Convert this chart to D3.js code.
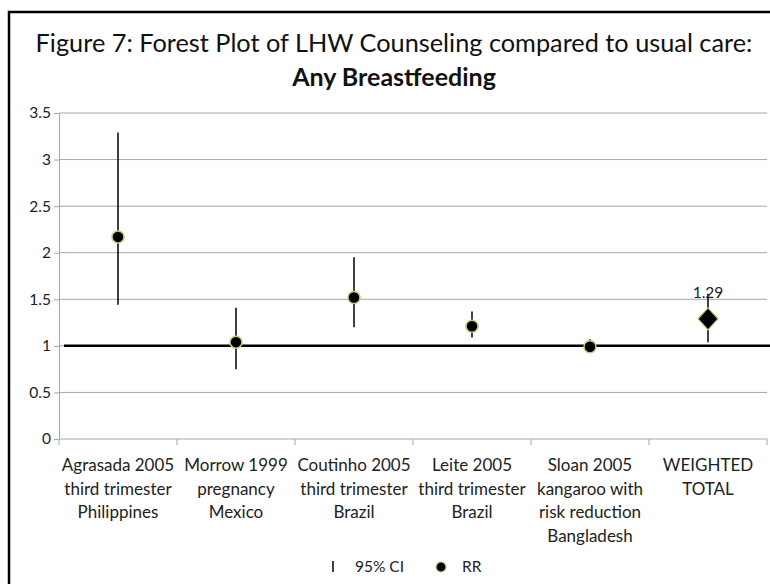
<!DOCTYPE html>
<html lang="en">
<head>
  <meta charset="UTF-8">
  <title>Forest Plot - Any Breastfeeding</title>
  <script src="https://d3js.org/d3.v7.min.js"></script>
  <style>
    body { margin: 0; background: #fff; }
    svg { display: block; font-family: Lato, "Open Sans", sans-serif; }
  </style>
</head>
<body>
  <svg id="chart"></svg>

  <script>
    // Data
    const categories = [
      ["Agrasada 2005", "third trimester", "Philippines"],
      ["Morrow 1999", "pregnancy", "Mexico"],
      ["Coutinho 2005", "third trimester", "Brazil"],
      ["Leite 2005", "third trimester", "Brazil"],
      ["Sloan 2005", "kangaroo with", "risk reduction", "Bangladesh"],
      ["WEIGHTED", "TOTAL"]
    ];
    const rr = [2.17, 1.04, 1.52, 1.21, 0.99, 1.29];
    const ciLow = [1.44, 0.75, 1.20, 1.09, 0.95, 1.04];
    const ciHigh = [3.29, 1.41, 1.95, 1.37, 1.07, 1.56];
    const yTicks = [0, 0.5, 1, 1.5, 2, 2.5, 3, 3.5];
    const totalLabel = "1.29";

    const width = 770, height = 584;
    const plotLeft = 59, plotRight = 767, plotTop = 113, plotBottom = 439;

    const svg = d3.select("#chart")
      .attr("width", width)
      .attr("height", height);

    // outer frame (runs off the right and bottom edges)
    svg.append("rect")
      .attr("x", 9).attr("y", 12)
      .attr("width", 800).attr("height", 640)
      .attr("fill", "none")
      .attr("stroke", "#000")
      .attr("stroke-width", 2.5);

    // titles
    svg.append("text")
      .attr("x", 394).attr("y", 52)
      .attr("text-anchor", "middle")
      .style("font-size", "25.3px")
      .attr("fill", "#111")
      .text("Figure 7: Forest Plot of LHW Counseling compared to usual care:");

    svg.append("text")
      .attr("x", 394).attr("y", 86)
      .attr("text-anchor", "middle")
      .style("font-size", "25px")
      .style("font-weight", "bold")
      .attr("fill", "#111")
      .text("Any Breastfeeding");

    const ids = categories.map((c, i) => i);

    const x = d3.scaleBand()
      .domain(ids)
      .range([plotLeft, plotRight]);

    const y = d3.scaleLinear()
      .domain([0, 3.5])
      .range([plotBottom, plotTop]);

    // gridlines
    svg.append("g")
      .selectAll("line")
      .data(yTicks.filter(d => d > 0))
      .enter().append("line")
      .attr("x1", plotLeft).attr("x2", plotRight)
      .attr("y1", d => y(d)).attr("y2", d => y(d))
      .style("stroke", "#a6a6a6")
      .style("stroke-width", 1);

    // y axis
    const yAxis = svg.append("g")
      .attr("transform", `translate(${plotLeft},0)`)
      .call(d3.axisLeft(y).tickValues(yTicks).tickSize(5).tickSizeOuter(0)
        .tickFormat(d => d3.format("")(d)));
    yAxis.select(".domain").style("stroke", "#a6a6a6");
    yAxis.selectAll(".tick line").style("stroke", "#a6a6a6");
    yAxis.selectAll(".tick text")
      .attr("x", -8)
      .style("font-size", "15.5px")
      .style("font-family", "Lato, sans-serif")
      .attr("fill", "#222");

    // x axis with ticks at category boundaries
    svg.append("line")
      .attr("x1", plotLeft).attr("x2", plotRight)
      .attr("y1", plotBottom).attr("y2", plotBottom)
      .style("stroke", "#a6a6a6");

    svg.append("g")
      .selectAll("line")
      .data(ids.concat([ids.length]))
      .enter().append("line")
      .attr("x1", d => plotLeft + d * x.bandwidth())
      .attr("x2", d => plotLeft + d * x.bandwidth())
      .attr("y1", plotBottom).attr("y2", plotBottom + 6)
      .style("stroke", "#a6a6a6");

    // category labels
    const catLabels = svg.append("g")
      .selectAll("text")
      .data(categories)
      .enter().append("text")
      .attr("text-anchor", "middle")
      .style("font-size", "17px")
      .attr("fill", "#222");

    catLabels.each(function(lines, i) {
      d3.select(this).selectAll("tspan")
        .data(lines)
        .enter().append("tspan")
        .attr("x", x(i) + x.bandwidth() / 2)
        .attr("y", (d, j) => 471 + j * 23.5)
        .text(d => d);
    });

    // reference line at RR = 1
    svg.append("line")
      .attr("x1", plotLeft + 5).attr("x2", width)
      .attr("y1", y(1)).attr("y2", y(1))
      .style("stroke", "#000")
      .style("stroke-width", 2.5);

    // confidence intervals
    svg.append("g")
      .selectAll("line")
      .data(ids)
      .enter().append("line")
      .attr("x1", i => x(i) + x.bandwidth() / 2)
      .attr("x2", i => x(i) + x.bandwidth() / 2)
      .attr("y1", i => y(ciLow[i]))
      .attr("y2", i => y(ciHigh[i]))
      .style("stroke", "#000")
      .style("stroke-width", 1.5);

    // study point estimates
    const studyIds = ids.slice(0, ids.length - 1);
    svg.append("g")
      .selectAll("circle")
      .data(studyIds)
      .enter().append("circle")
      .attr("cx", i => x(i) + x.bandwidth() / 2)
      .attr("cy", i => y(rr[i]))
      .attr("r", 6)
      .style("fill", "#000")
      .style("stroke", "#b5cf7a")
      .style("stroke-width", 1.5);

    // weighted total diamond
    const tot = ids.length - 1;
    const cx = x(tot) + x.bandwidth() / 2, cy = y(rr[tot]);
    svg.append("path")
      .attr("d", `M${cx},${cy - 11}L${cx + 10},${cy}L${cx},${cy + 11}L${cx - 10},${cy}Z`)
      .style("fill", "#000")
      .style("stroke", "#b5cf7a")
      .style("stroke-width", 1.2);

    svg.append("text")
      .attr("x", cx)
      .attr("y", cy - 21)
      .attr("text-anchor", "middle")
      .style("font-size", "15.5px")
      .attr("fill", "#222")
      .text(totalLabel);

    // legend
    const legend = svg.append("g").style("font-size", "15.5px").attr("fill", "#222");
    legend.append("line")
      .attr("x1", 333).attr("x2", 333)
      .attr("y1", 561).attr("y2", 572)
      .style("stroke", "#000").style("stroke-width", 1.5);
    legend.append("text").attr("x", 355).attr("y", 572).text("95% CI");
    legend.append("circle")
      .attr("cx", 441).attr("cy", 567).attr("r", 5)
      .style("fill", "#000").style("stroke", "#b5cf7a").style("stroke-width", 1.2);
    legend.append("text").attr("x", 462).attr("y", 572).text("RR");
  </script>
</body>
</html>
